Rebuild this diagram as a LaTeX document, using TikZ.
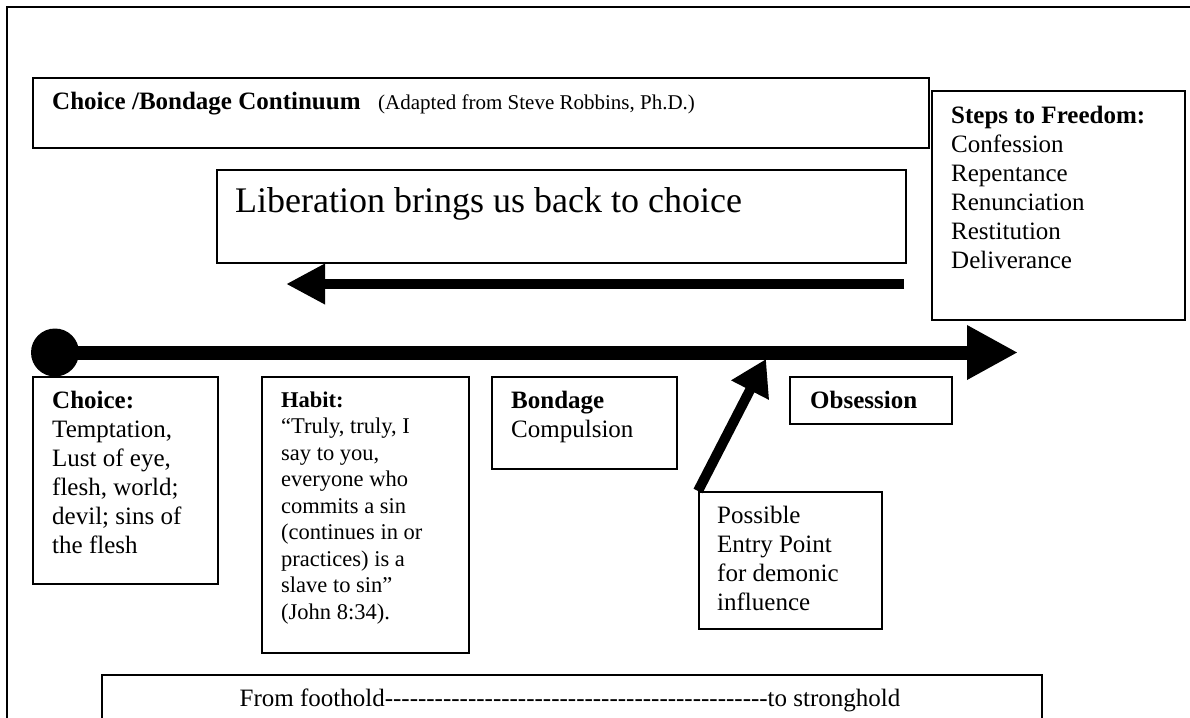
\documentclass[tikz,border=0pt]{standalone}
\usepackage{fontspec}
\setmainfont{Liberation Serif}
\usetikzlibrary{arrows.meta}
\newcommand\fa{\fontsize{25}{29}\selectfont}
\newcommand\fb{\fontsize{22.5}{26}\selectfont}
\newcommand\fc{\fontsize{21}{24}\selectfont}
\newcommand\fd{\fontsize{36}{41}\selectfont}
\newcommand\dashrun[1]{\foreach \k in {1,...,#1}{-\kern0pt}}
\tikzset{
  frame/.style={draw, line width=2pt},
  box/.style={draw, line width=2pt, inner sep=0pt, anchor=north west},
  txt/.style={anchor=base west, inner sep=0pt},
  thickarrow/.style={line width=#1, draw=black},
}
\newcommand\boxat[5]{\node[box, minimum width=#4pt, minimum height=#5pt] (#1) at (#2,#3) {};}
\begin{document}
\begin{tikzpicture}[x=1pt,y=-1pt]
\useasboundingbox (0,0) rectangle (1190,717);
% outer frame
\draw[frame] (7,7) rectangle (1210,740);
% boxes
\boxat{title}{32}{77}{896}{70}
\boxat{steps}{931}{90}{253}{229}
\boxat{lib}{216}{169}{689}{93}
\boxat{choice}{32}{376}{185}{207}
\boxat{habit}{261}{376}{207}{276}
\boxat{bond}{491}{376}{185}{92}
\boxat{obs}{789}{376}{162}{47}
\boxat{poss}{698}{491}{183}{137}
\boxat{bottom}{101}{674}{940}{90}
% title
\node[txt, font=\fa] (t1) at (52,109) {\textbf{Choice /Bondage Continuum}};
\node[txt, font=\fc] (t2) at (378,109) {(Adapted from Steve Robbins, Ph.D.)};
% liberation
\node[txt, font=\fd] (l1) at (235,212) {Liberation brings us back to choice};
% steps
\node[txt, font=\fa] (s0) at (951,123) {\textbf{Steps to Freedom:}};
\node[txt, font=\fa] (s1) at (951,152) {Confession};
\node[txt, font=\fa] (s2) at (951,181) {Repentance};
\node[txt, font=\fa] (s3) at (951,210) {Renunciation};
\node[txt, font=\fa] (s4) at (951,239) {Restitution};
\node[txt, font=\fa] (s5) at (951,268) {Deliverance};
% choice
\node[txt, font=\fa] (c0) at (52,408) {\textbf{Choice:}};
\node[txt, font=\fa] (c1) at (52,437) {Temptation,};
\node[txt, font=\fa] (c2) at (52,466) {Lust of eye,};
\node[txt, font=\fa] (c3) at (52,495) {flesh, world;};
\node[txt, font=\fa] (c4) at (52,524) {devil; sins of};
\node[txt, font=\fa] (c5) at (52,553) {the flesh};
% habit
\node[txt, font=\fb] (h0) at (281,407) {\textbf{Habit:}};
\node[txt, font=\fb] (h1) at (281,433.5) {“Truly, truly, I};
\node[txt, font=\fb] (h2) at (281,460) {say to you,};
\node[txt, font=\fb] (h3) at (281,486.5) {everyone who};
\node[txt, font=\fb] (h4) at (281,513) {commits a sin};
\node[txt, font=\fb] (h5) at (281,539.5) {(continues in or};
\node[txt, font=\fb] (h6) at (281,566) {practices) is a};
\node[txt, font=\fb] (h7) at (281,592.5) {slave to sin”};
\node[txt, font=\fb] (h8) at (281,619) {(John 8:34).};
% bondage
\node[txt, font=\fa] (b0) at (511,408) {\textbf{Bondage}};
\node[txt, font=\fa] (b1) at (511,437) {Compulsion};
% obsession
\node[txt, font=\fa] (o0) at (810,408) {\textbf{Obsession}};
% possible
\node[txt, font=\fa] (p1) at (717,523) {Possible};
\node[txt, font=\fa] (p2) at (717,552) {Entry Point};
\node[txt, font=\fa] (p3) at (717,581) {for demonic};
\node[txt, font=\fa] (p4) at (717,610) {influence};
% bottom
\node[anchor=base, inner sep=0pt, font=\fa] (f1) at (570,706) {From foothold\dashrun{46}to stronghold};
% arrows
\node[circle, fill=black, inner sep=0pt, minimum size=48pt] (dot) at (55,352.5) {};
\coordinate (mend) at (1018,352.5);
\draw[thickarrow=14pt, -{Triangle[length=51pt,width=51pt]}] (dot.center) -- (mend);
\coordinate (lstart) at (904,284);
\coordinate (lend) at (286,284);
\draw[thickarrow=10pt, -{Triangle[length=39pt,width=38pt]}] (lstart) -- (lend);
\coordinate (dtip) at (766,359);
\draw[thickarrow=10pt, -{Triangle[length=35pt,width=40pt]}] (poss.north west) -- (dtip);
\end{tikzpicture}
\end{document}
